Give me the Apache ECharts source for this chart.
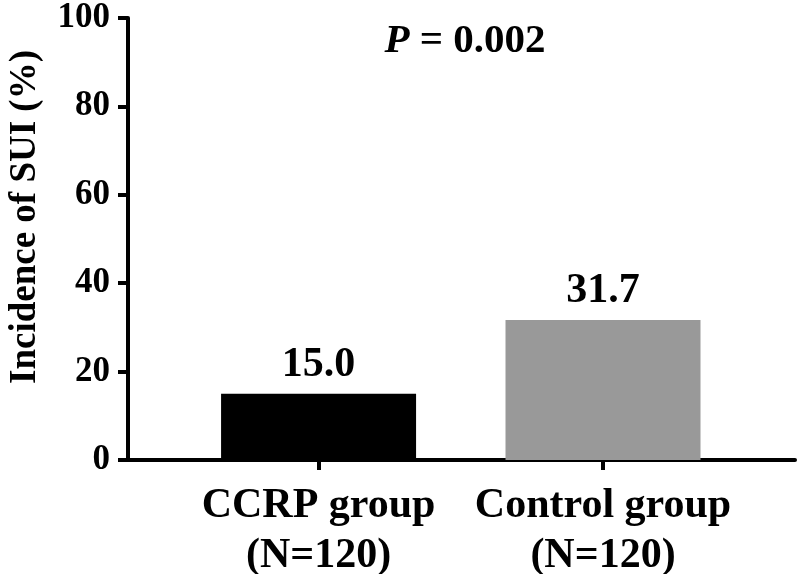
<!DOCTYPE html>
<html>
<head>
<meta charset="utf-8">
<script src="https://cdn.jsdelivr.net/npm/echarts@6/dist/echarts.min.js"></script>
<style>
  html, body { margin: 0; padding: 0; background: #fff; }
  #chart { width: 800px; height: 574px; }
</style>
</head>
<body>
<div id="chart"></div>
<script>
// 分组与发生率
const categories = ['CCRP group\n(N=120)', 'Control group\n(N=120)'];
const incidence = [15.0, 31.7];
const barColors = ['#000000', '#999999'];
const yTicks = [0, 20, 40, 60, 80, 100];
const pText = '0.002';

const chart = echarts.init(document.getElementById('chart'));
const font = '"Liberation Serif", "Times New Roman", serif';

const option = {
    animation: false,
    title: {
        text: '{i|P} = ' + pText,
        left: 460,
        top: 16,
        textAlign: 'center',
        textStyle: {
            fontFamily: font,
            fontSize: 41,
            fontWeight: 'bold',
            color: '#000',
            rich: {
                i: { fontFamily: font, fontSize: 41, fontWeight: 'bold', fontStyle: 'italic', color: '#000' }
            }
        }
    },
    grid: {
        left: 128,
        right: 5,
        top: 18,
        bottom: 114,
        containLabel: false,
        outerBoundsMode: 'none'
    },
    xAxis: {
        type: 'value',
        min: -0.67,
        max: 1.675,
        splitLine: { show: false },
        axisLine: { onZero: false, lineStyle: { color: '#000', width: 4 } },
        axisTick: {
            show: true,
            customValues: [0, 1],
            length: 10,
            lineStyle: { color: '#000', width: 4 }
        },
        axisLabel: {
            customValues: [0, 1],
            formatter: v => categories[Math.round(v)] || '',
            fontFamily: font,
            fontSize: 42,
            fontWeight: 'bold',
            color: '#000',
            lineHeight: 50,
            margin: 21
        }
    },
    yAxis: {
        type: 'value',
        min: yTicks[0],
        max: yTicks[yTicks.length - 1],
        interval: 20,
        name: 'Incidence of SUI (%)',
        nameLocation: 'middle',
        nameGap: 84,
        nameTextStyle: {
            fontFamily: font,
            fontSize: 37,
            fontWeight: 'bold',
            color: '#000',
            padding: [0, 0, 0, 44]
        },
        splitLine: { show: false },
        axisLine: { show: true, onZero: false, lineStyle: { color: '#000', width: 4 } },
        axisTick: { show: true, length: 10, lineStyle: { color: '#000', width: 4 } },
        axisLabel: {
            fontFamily: font,
            fontSize: 35,
            fontWeight: 'bold',
            color: '#000',
            margin: 18
        }
    },
    series: [
        {
            type: 'bar',
            barWidth: 195,
            data: incidence.map((v, i) => ({
                value: [i, v],
                itemStyle: { color: barColors[i] }
            })),
            label: {
                show: true,
                position: 'top',
                distance: 8,
                formatter: p => p.value[1].toFixed(1),
                fontFamily: font,
                fontSize: 42,
                fontWeight: 'bold',
                color: '#000'
            }
        }
    ]
};

chart.setOption(option);
</script>
</body>
</html>
